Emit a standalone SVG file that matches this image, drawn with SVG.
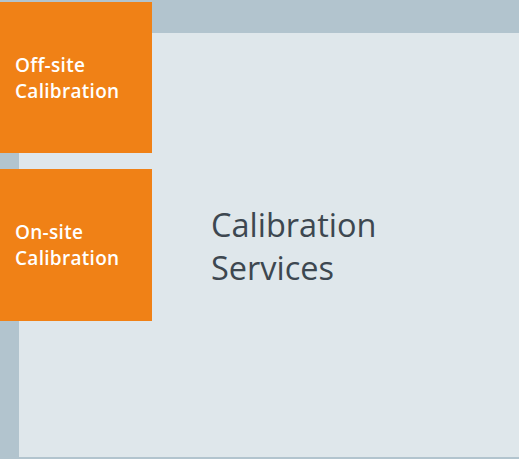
<svg xmlns="http://www.w3.org/2000/svg" width="519" height="459" viewBox="0 0 519 459">
<style>
.box{fill:#f08116}
.lbl{font-family:"Open Sans","Liberation Sans",sans-serif;font-weight:600;font-size:19px;letter-spacing:0.3px;fill:#ffffff}
.title{font-family:"Open Sans","Liberation Sans",sans-serif;font-size:32.5px;fill:#3d4750}
</style>
<rect x="0" y="0" width="519" height="459" fill="#b2c4ce"/>
<g id="main">
<rect x="19" y="33" width="500" height="424" fill="#dfe7eb"/>
<text class="title" x="211" y="237">Calibration</text>
<text class="title" x="211" y="280">Services</text>
</g>
<g id="offsite">
<rect class="box" x="0" y="2" width="152" height="151"/>
<text class="lbl" x="15" y="72">Off-site</text>
<text class="lbl" x="15" y="98">Calibration</text>
</g>
<g id="onsite">
<rect class="box" x="0" y="169" width="152" height="152"/>
<text class="lbl" x="15" y="239">On-site</text>
<text class="lbl" x="15" y="265">Calibration</text>
</g>
<g id="connectors"></g>
</svg>
